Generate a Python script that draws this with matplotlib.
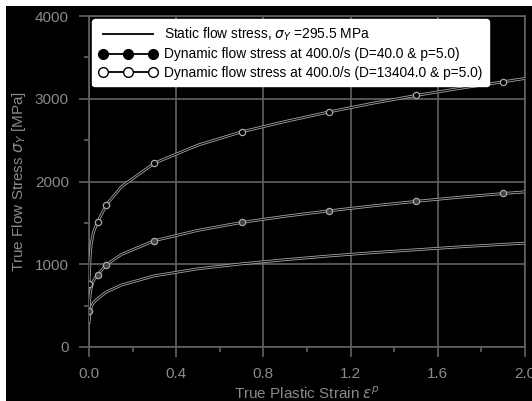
import matplotlib
matplotlib.use("Agg")
import matplotlib.pyplot as plt
from matplotlib.lines import Line2D
from matplotlib.patches import Rectangle

plt.rcParams['font.family'] = ['Liberation Sans', 'DejaVu Sans']
plt.rcParams['mathtext.fontset'] = 'dejavusans'

# values
strain = [0.0, 0.005, 0.01, 0.02, 0.04, 0.08, 0.15, 0.3, 0.5, 0.7,
          0.9, 1.1, 1.3, 1.5, 1.7, 1.9, 2.0]
static_stress = [295, 420, 480, 535, 585, 665, 750, 860, 945, 1005,
                 1055, 1100, 1140, 1175, 1210, 1240, 1255]
dyn_d40 = [765, 1085, 1240, 1385, 1515, 1720, 1940, 2222, 2440, 2600,
           2725, 2840, 2945, 3040, 3125, 3205, 3245]
dyn_d13404 = [440, 630, 715, 800, 875, 995, 1120, 1285, 1410, 1505,
              1580, 1645, 1705, 1760, 1810, 1855, 1875]
marker_idx = [0, 4, 5, 7, 9, 11, 13, 15]

labels = [
    r"Static flow stress, $\sigma_Y$ =295.5 MPa",
    "Dynamic flow stress at 400.0/s (D=40.0 & p=5.0)",
    "Dynamic flow stress at 400.0/s (D=13404.0 & p=5.0)",
]

grey = "#626262"
text_grey = "#8a8a8a"

fig = plt.figure(figsize=(5.32, 4.01), dpi=100, facecolor="white")
# black canvas with thin white strip on the left and top
fig.patches.append(Rectangle((6 / 532, 0), 1, 1 - 6 / 401,
                             transform=fig.transFigure, facecolor="black",
                             edgecolor="none", zorder=-10))

ax = fig.add_axes([89 / 532, 1 - 347 / 401, 436 / 532, 331 / 401])
ax.set_facecolor("black")

for ys in (static_stress, dyn_d40, dyn_d13404):
    ax.plot(strain, ys, color="#a8a8a8", lw=2.0, zorder=3)
    ax.plot(strain, ys, color="black", lw=0.8, zorder=4)

ax.plot([strain[i] for i in marker_idx], [dyn_d40[i] for i in marker_idx],
        ls="none", marker="o", ms=4.5, mfc="black", mec="#a8a8a8", mew=0.9, zorder=5)
ax.plot([strain[i] for i in marker_idx], [dyn_d13404[i] for i in marker_idx],
        ls="none", marker="o", ms=4.5, mfc="#404040", mec="#a8a8a8", mew=0.9, zorder=5)

ax.set_xlim(0, 2.0)
ax.set_ylim(0, 4000)
ax.set_xticks([0.0, 0.4, 0.8, 1.2, 1.6, 2.0])
ax.set_xticks([0.2, 0.6, 1.0, 1.4, 1.8], minor=True)
ax.set_yticks([0, 1000, 2000, 3000, 4000])
ax.set_yticks([500, 1500, 2500, 3500], minor=True)
ax.set_xticklabels(["0.0", "0.4", "0.8", "1.2", "1.6", "2.0"])
ax.grid(True, which="major", color=grey, lw=1.2, zorder=1)
for s in ax.spines.values():
    s.set_color(grey)
    s.set_linewidth(1.2)
ax.tick_params(which="major", direction="out", length=7.5, width=1.2,
               color=grey, labelcolor=text_grey, labelsize=11, pad=7)
ax.tick_params(which="minor", direction="out", length=3.5, width=1.2, color=grey)

ax.set_xlabel(r"True Plastic Strain $\varepsilon^p$", color=text_grey,
              fontsize=11, labelpad=3)
ax.set_ylabel(r"True Flow Stress $\sigma_Y$ [MPa]", color=text_grey,
              fontsize=11, labelpad=5)

handles = [
    Line2D([], [], color="black", lw=1.3),
    Line2D([], [], color="black", lw=1.3, marker="o", ms=7, mfc="black", mec="black"),
    Line2D([], [], color="black", lw=1.3, marker="o", ms=7, mfc="white", mec="black"),
]
leg = ax.legend(handles, labels, loc="upper left", bbox_to_anchor=(0.007, 0.991),
                borderaxespad=0, fontsize=9.9, numpoints=3, handlelength=4.2,
                handletextpad=0.5, labelspacing=0.3, borderpad=0.5, fancybox=True,
                framealpha=1, facecolor="white", edgecolor="white")
leg.set_zorder(10)

fig.savefig("out.png", dpi=100, facecolor=fig.get_facecolor())
